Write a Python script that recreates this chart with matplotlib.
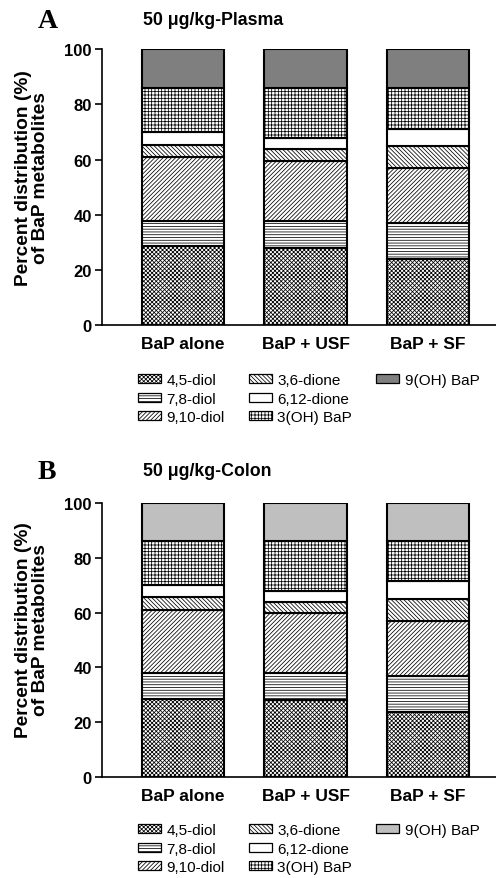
import matplotlib.pyplot as plt
import matplotlib.patches as mpatches
import numpy as np

plt.rcParams['font.family'] = ['Liberation Sans', 'DejaVu Sans']
plt.rcParams['hatch.linewidth'] = 0.55

groups = ['BaP alone', 'BaP + USF', 'BaP + SF']
metabolites = ['4,5-diol', '7,8-diol', '9,10-diol', '3,6-dione',
               '6,12-dione', '3(OH) BaP', '9(OH) BaP']

# segment heights (%), one list per metabolite, values for the three groups
plasma = [
    [28.7, 27.9, 23.9],
    [9.1, 9.9, 13.1],
    [23.2, 21.7, 20.1],
    [4.2, 4.3, 7.9],
    [4.6, 4.0, 6.0],
    [16.2, 18.2, 15.0],
    [14.0, 14.0, 14.0],
]
colon = [
    [28.6, 27.9, 23.7],
    [9.3, 10.0, 13.1],
    [23.1, 21.9, 20.3],
    [4.6, 4.2, 7.9],
    [4.3, 3.9, 6.4],
    [16.2, 18.2, 14.6],
    [13.9, 13.9, 14.0],
]

hatches = ['x' * 8, '-' * 6, '/' * 8, '\\' * 8, '', '+' * 5, '']


def draw_panel(ax, data, top_color, letter, title, fig_top, legend_y):
    x = np.arange(len(groups))
    bottom = np.zeros(len(groups))
    for i, name in enumerate(metabolites):
        vals = np.array(data[i])
        face = top_color if i == len(metabolites) - 1 else 'white'
        ax.bar(x, vals, width=0.67, bottom=bottom, color=face,
               edgecolor='black', linewidth=1.5, hatch=hatches[i], label=name)
        bottom += vals

    ax.set_ylim(0, 100)
    ax.set_xlim(-0.664, 2.555)
    ax.set_yticks([0, 20, 40, 60, 80, 100])
    ax.set_xticks(x)
    ax.set_xticklabels(groups, fontsize=12.5, fontweight='bold')
    for lab in ax.get_yticklabels():
        lab.set_fontweight('bold')
        lab.set_fontsize(12)
    ax.tick_params(axis='x', length=0, pad=8)
    ax.tick_params(axis='y', length=5, width=1.2, pad=2)
    for s in ['top', 'right']:
        ax.spines[s].set_visible(False)
    for s in ['left', 'bottom']:
        ax.spines[s].set_linewidth(1.2)

    fig.text(38 / 496, fig_top, letter, fontsize=20, fontweight='bold',
             family='Liberation Serif', ha='left', va='center')
    fig.text(143 / 496, fig_top + 0.002, title, fontsize=12.8, fontweight='bold',
             ha='left', va='center')

    handles, labels = ax.get_legend_handles_labels()
    blank = mpatches.Patch(visible=False)
    handles = handles + [blank, blank]
    labels = labels + ['', '']
    leg = ax.legend(handles, labels, loc='upper left',
                    bbox_to_anchor=(138 / 496, legend_y),
                    bbox_transform=fig.transFigure, frameon=False, ncol=3,
                    fontsize=11, handlelength=1.5, handleheight=0.55,
                    handletextpad=0.35, columnspacing=1.6, labelspacing=0.3,
                    borderpad=0, borderaxespad=0)
    for p in leg.get_patches():
        p.set_linewidth(0.9)


fig = plt.figure(figsize=(4.96, 8.79), dpi=100)
axA = fig.add_axes([0.205, 0.629, 0.795, 0.314])
axB = fig.add_axes([0.205, 0.115, 0.795, 0.3116])

draw_panel(axA, plasma, '#7f7f7f', 'A', '50 μg/kg-Plasma', 1 - 22 / 879, 1 - 374 / 879)
draw_panel(axB, colon, '#bfbfbf', 'B', '50 μg/kg-Colon', 1 - 473 / 879, 1 - 824 / 879)

ylab = 'Percent distribution (%)\nof BaP metabolites'
fig.text(32 / 496, 1 - 178 / 879, ylab, rotation=90, fontsize=13.8,
         fontweight='bold', ha='center', va='center', multialignment='center',
         linespacing=0.95)
fig.text(32 / 496, 1 - 630 / 879, ylab, rotation=90, fontsize=13.8,
         fontweight='bold', ha='center', va='center', multialignment='center',
         linespacing=0.95)

fig.savefig('out.png', dpi=100)
